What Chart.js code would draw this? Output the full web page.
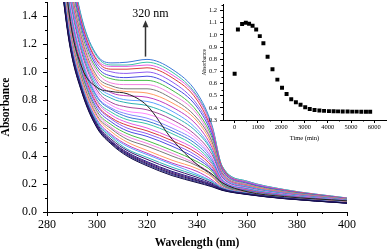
<!DOCTYPE html>
<html>
<head>
<meta charset="utf-8">
<script src="https://cdn.jsdelivr.net/npm/chart.js@4.4.1/dist/chart.umd.min.js"></script>
<style>
  html, body { margin: 0; padding: 0; background: #fff; }
  #wrap { position: relative; width: 390px; height: 251px; }
  #main { position: absolute; left: 0; top: 0; }
  #inset { position: absolute; left: 200px; top: 0; }
</style>
</head>
<body>
<div id="wrap">
  <canvas id="main" width="390" height="251"></canvas>
  <canvas id="inset" width="190" height="150"></canvas>
</div>
<script>
// main plot: spectra (nm -> absorbance)
const wavelengths = [284, 289, 294, 300, 306, 312, 320, 330, 340, 346, 350, 360, 375, 400];

const spectra = [
  [2.60, 1.85, 1.38, 1.12, 1.065, 1.07, 1.09, 1.02, 0.85, 0.62, 0.33, 0.22, 0.16, 0.10],
  [2.58, 1.83, 1.37, 1.11, 1.05, 1.05, 1.07, 1.00, 0.83, 0.61, 0.33, 0.22, 0.16, 0.10],
  [2.57, 1.82, 1.35, 1.09, 1.04, 1.04, 1.05, 0.98, 0.82, 0.60, 0.32, 0.215, 0.157, 0.098],
  [2.54, 1.80, 1.34, 1.08, 1.02, 1.02, 1.03, 0.96, 0.80, 0.58, 0.32, 0.21, 0.155, 0.097],
  [2.52, 1.77, 1.32, 1.06, 1.00, 0.99, 1.00, 0.93, 0.77, 0.57, 0.31, 0.21, 0.152, 0.096],
  [2.49, 1.75, 1.30, 1.04, 0.97, 0.96, 0.97, 0.90, 0.75, 0.55, 0.30, 0.205, 0.15, 0.094],
  [2.46, 1.72, 1.27, 1.02, 0.95, 0.94, 0.94, 0.87, 0.72, 0.53, 0.295, 0.20, 0.147, 0.093],
  [2.43, 1.69, 1.25, 1.00, 0.92, 0.91, 0.91, 0.84, 0.70, 0.51, 0.29, 0.197, 0.144, 0.091],
  [2.40, 1.67, 1.23, 0.97, 0.90, 0.88, 0.88, 0.81, 0.67, 0.50, 0.28, 0.193, 0.142, 0.090],
  [2.38, 1.64, 1.21, 0.95, 0.88, 0.86, 0.85, 0.78, 0.65, 0.48, 0.27, 0.19, 0.139, 0.088],
  [2.35, 1.62, 1.19, 0.93, 0.85, 0.83, 0.82, 0.75, 0.62, 0.46, 0.27, 0.186, 0.137, 0.087],
  [2.32, 1.59, 1.17, 0.91, 0.83, 0.80, 0.79, 0.72, 0.59, 0.44, 0.26, 0.182, 0.134, 0.085],
  [2.29, 1.56, 1.15, 0.89, 0.81, 0.78, 0.76, 0.69, 0.57, 0.43, 0.25, 0.178, 0.131, 0.084],
  [2.26, 1.54, 1.13, 0.87, 0.78, 0.75, 0.73, 0.66, 0.54, 0.41, 0.25, 0.174, 0.129, 0.082],
  [2.24, 1.51, 1.10, 0.85, 0.76, 0.72, 0.70, 0.63, 0.52, 0.39, 0.24, 0.171, 0.126, 0.081],
  [2.22, 1.49, 1.09, 0.83, 0.74, 0.70, 0.67, 0.60, 0.50, 0.38, 0.23, 0.168, 0.124, 0.080],
  [2.19, 1.47, 1.07, 0.82, 0.73, 0.68, 0.65, 0.58, 0.48, 0.365, 0.23, 0.165, 0.122, 0.079],
  [2.17, 1.45, 1.06, 0.80, 0.71, 0.66, 0.63, 0.56, 0.46, 0.35, 0.22, 0.162, 0.120, 0.077],
  [2.15, 1.43, 1.04, 0.79, 0.69, 0.64, 0.60, 0.53, 0.44, 0.34, 0.22, 0.159, 0.118, 0.076],
  [2.13, 1.41, 1.03, 0.77, 0.67, 0.62, 0.58, 0.51, 0.42, 0.325, 0.21, 0.156, 0.116, 0.075],
  [2.11, 1.40, 1.01, 0.76, 0.66, 0.60, 0.56, 0.49, 0.40, 0.31, 0.21, 0.154, 0.115, 0.074],
  [2.09, 1.38, 0.99, 0.74, 0.64, 0.58, 0.54, 0.47, 0.38, 0.30, 0.20, 0.151, 0.113, 0.073],
  [2.07, 1.36, 0.98, 0.72, 0.62, 0.56, 0.51, 0.44, 0.36, 0.29, 0.20, 0.148, 0.111, 0.072],
  [2.05, 1.34, 0.96, 0.71, 0.60, 0.54, 0.49, 0.42, 0.34, 0.27, 0.19, 0.145, 0.109, 0.071],
  [2.03, 1.32, 0.95, 0.69, 0.59, 0.52, 0.47, 0.40, 0.33, 0.26, 0.19, 0.142, 0.107, 0.070],
  [2.01, 1.30, 0.93, 0.68, 0.57, 0.50, 0.44, 0.37, 0.31, 0.25, 0.18, 0.139, 0.105, 0.069],
  [1.98, 1.28, 0.91, 0.66, 0.55, 0.48, 0.42, 0.35, 0.29, 0.23, 0.176, 0.136, 0.103, 0.067],
  [1.97, 1.27, 0.90, 0.65, 0.54, 0.47, 0.41, 0.34, 0.27, 0.22, 0.173, 0.135, 0.102, 0.067],
  [1.96, 1.25, 0.89, 0.64, 0.53, 0.45, 0.39, 0.32, 0.26, 0.215, 0.169, 0.133, 0.100, 0.066],
  [1.94, 1.24, 0.88, 0.63, 0.515, 0.44, 0.376, 0.306, 0.248, 0.206, 0.166, 0.131, 0.099, 0.065],
  [1.93, 1.23, 0.87, 0.62, 0.503, 0.427, 0.36, 0.29, 0.236, 0.198, 0.162, 0.129, 0.098, 0.0645],
  [1.92, 1.22, 0.866, 0.616, 0.498, 0.42, 0.353, 0.283, 0.229, 0.193, 0.16, 0.128, 0.097, 0.064],
  [1.91, 1.213, 0.861, 0.61, 0.492, 0.413, 0.345, 0.275, 0.223, 0.189, 0.159, 0.127, 0.096, 0.064],
  [1.907, 1.207, 0.855, 0.605, 0.486, 0.407, 0.338, 0.268, 0.216, 0.184, 0.157, 0.126, 0.096, 0.063],
  [1.90, 1.20, 0.85, 0.60, 0.48, 0.40, 0.33, 0.26, 0.21, 0.18, 0.155, 0.125, 0.095, 0.063]
];

// t = 0 spectrum (thin black line crossing the family)
const firstSpectrum = [2.30, 1.40, 1.03, 0.89, 0.86, 0.845, 0.76, 0.52, 0.34, 0.27, 0.21, 0.145, 0.11, 0.08];

const xTicks = [280, 300, 320, 340, 360, 380, 400];
const xMinor = [290, 310, 330, 350, 370, 390];
const yTicks = [0, 0.2, 0.4, 0.6, 0.8, 1.0, 1.2, 1.4];
const yMinor = [0.1, 0.3, 0.5, 0.7, 0.9, 1.1, 1.3, 1.5];

// arrow note at the 320 nm band
const noteText = '320 nm';
const noteX = 319;
const noteFrom = 1.11;
const noteTo = 1.37;
const noteY = 1.415;

// inset: absorbance at 320 nm vs time
const insetTime = [0, 140, 320, 480, 620, 770, 925, 1080, 1235, 1415, 1625, 1835, 2035, 2230, 2430, 2630,
  2830, 3030, 3225, 3430, 3640, 3840, 4050, 4250, 4440, 4640, 4850, 5050, 5240, 5440, 5640, 5820];
const insetAbs = [0.68, 1.045, 1.09, 1.10, 1.092, 1.075, 1.045, 0.99, 0.932, 0.82, 0.718, 0.632, 0.566, 0.513, 0.47, 0.446,
  0.425, 0.405, 0.39, 0.383, 0.378, 0.375, 0.373, 0.372, 0.371, 0.37, 0.37, 0.369, 0.369, 0.368, 0.368, 0.368];
const insetXTicks = [0, 1000, 2000, 3000, 4000, 5000, 6000];
const insetXMinor = [500, 1500, 2500, 3500, 4500, 5500];
const insetYTicks = [0.3, 0.4, 0.5, 0.6, 0.7, 0.8, 0.9, 1.0, 1.1, 1.2];
const insetYMinor = [0.35, 0.45, 0.55, 0.65, 0.75, 0.85, 0.95, 1.05, 1.15, 1.25];

const colors = ['#3a78d8', '#3cc4a8', '#e35be3', '#d83a3a', '#8f5cf0', '#4a4ae0', '#48bc48', '#f27fe0',
  '#7a7a7a', '#ff9a62', '#c03cc0', '#5fa0ff', '#2fb2b2', '#a8489a', '#ff86ff', '#8888ff'];
const darkColors = ['#3b1272', '#1d1d80', '#4d1780', '#25124f', '#2e2e90', '#120a40'];

const serif = 'Liberation Serif, Times New Roman, serif';

const minorTicks = {
  id: 'minorTicks',
  afterDraw(chart, args, opts) {
    const ctx = chart.ctx;
    const xs = chart.scales.x, ys = chart.scales.y;
    ctx.save();
    ctx.strokeStyle = '#000';
    ctx.lineWidth = 1;
    ctx.beginPath();
    opts.x.forEach(v => {
      const px = Math.round(xs.getPixelForValue(v)) + 0.5;
      ctx.moveTo(px, xs.top);
      ctx.lineTo(px, xs.top + opts.len);
    });
    opts.y.forEach(v => {
      const py = Math.round(ys.getPixelForValue(v)) + 0.5;
      ctx.moveTo(ys.right, py);
      ctx.lineTo(ys.right - opts.len, py);
    });
    ctx.stroke();
    ctx.restore();
  }
};

const arrowNote = {
  id: 'arrowNote',
  afterDatasetsDraw(chart) {
    const ctx = chart.ctx;
    const xs = chart.scales.x, ys = chart.scales.y;
    const px = Math.round(xs.getPixelForValue(noteX)) + 0.5;
    const y0 = ys.getPixelForValue(noteFrom);
    const y1 = ys.getPixelForValue(noteTo);
    ctx.save();
    ctx.strokeStyle = '#333';
    ctx.fillStyle = '#333';
    ctx.lineWidth = 1.5;
    ctx.beginPath();
    ctx.moveTo(px, y0);
    ctx.lineTo(px, y1 + 5);
    ctx.stroke();
    ctx.beginPath();
    ctx.moveTo(px, y1);
    ctx.lineTo(px - 3, y1 + 7);
    ctx.lineTo(px + 3, y1 + 7);
    ctx.closePath();
    ctx.fill();
    ctx.fillStyle = '#000';
    ctx.font = '12px ' + serif;
    ctx.textAlign = 'center';
    ctx.textBaseline = 'middle';
    ctx.fillText(noteText, px + 5, ys.getPixelForValue(noteY));
    ctx.restore();
  }
};

function fixTicks(list) {
  return s => { s.ticks = list.map(v => ({ value: v })); };
}

const datasets = spectra.map((s, i) => ({
  data: wavelengths.map((w, k) => ({ x: w, y: s[k] })),
  borderColor: i >= spectra.length - darkColors.length
    ? darkColors[i - (spectra.length - darkColors.length)]
    : colors[i % colors.length],
  borderWidth: 1,
  pointRadius: 0,
  cubicInterpolationMode: 'monotone',
  order: spectra.length - i + 1
}));
datasets.push({
  data: wavelengths.map((w, k) => ({ x: w, y: firstSpectrum[k] })),
  borderColor: '#222',
  borderWidth: 1,
  pointRadius: 0,
  cubicInterpolationMode: 'monotone',
  order: 0
});

new Chart(document.getElementById('main'), {
  type: 'line',
  data: { datasets },
  options: {
    responsive: false,
    animation: false,
    layout: { padding: { left: 0, right: 43, top: 2, bottom: 0 } },
    plugins: {
      legend: { display: false },
      tooltip: { enabled: false },
      minorTicks: { x: xMinor, y: yMinor, len: 2 }
    },
    scales: {
      x: {
        type: 'linear', min: 280, max: 400,
        afterBuildTicks: fixTicks(xTicks),
        afterFit: s => { s.height = 39; s.paddingLeft = 0; s.paddingRight = 0; },
        grid: { drawOnChartArea: false, tickLength: 4, tickColor: '#000' },
        border: { color: '#000', width: 1 },
        ticks: { color: '#000', padding: 2, maxRotation: 0, autoSkip: false,
          font: { family: serif, size: 12 }, callback: v => String(v) },
        title: { display: true, text: 'Wavelength (nm)', color: '#000',
          font: { family: serif, size: 11.5, weight: 'bold', lineHeight: 1.2 }, padding: { top: 0, bottom: 1 } }
      },
      y: {
        min: 0, max: 1.5,
        afterBuildTicks: fixTicks(yTicks),
        afterFit: s => { s.width = 47; s.paddingTop = 0; s.paddingBottom = 0; },
        grid: { drawOnChartArea: false, tickLength: 4, tickColor: '#000' },
        border: { color: '#000', width: 1 },
        ticks: { color: '#000', padding: 6, font: { family: serif, size: 12 }, callback: v => v.toFixed(1) },
        title: { display: true, text: 'Absorbance', color: '#000',
          font: { family: serif, size: 11.5, weight: 'bold', lineHeight: 1.05 }, padding: { top: 0, bottom: 0 } }
      }
    }
  },
  plugins: [minorTicks, arrowNote]
});

new Chart(document.getElementById('inset'), {
  type: 'scatter',
  data: {
    datasets: [{
      data: insetTime.map((t, i) => ({ x: t, y: insetAbs[i] })),
      pointStyle: 'rect',
      pointRadius: 2.8,
      backgroundColor: '#000',
      borderWidth: 0
    }]
  },
  options: {
    responsive: false,
    animation: false,
    layout: { padding: { left: 0, right: 3, top: 4.5, bottom: 0 } },
    plugins: {
      legend: { display: false },
      tooltip: { enabled: false },
      minorTicks: { x: insetXMinor, y: insetYMinor, len: 1.5 }
    },
    scales: {
      x: {
        type: 'linear', min: -500, max: 6500,
        afterBuildTicks: fixTicks(insetXTicks),
        afterFit: s => { s.height = 30; s.paddingLeft = 0; s.paddingRight = 0; },
        grid: { drawOnChartArea: false, tickLength: 3, tickColor: '#000' },
        border: { color: '#000', width: 1 },
        ticks: { color: '#000', padding: 0, maxRotation: 0, autoSkip: false,
          font: { family: serif, size: 6.5 }, callback: v => String(v) },
        title: { display: true, text: 'Time (min)', color: '#000',
          font: { family: serif, size: 6.5, lineHeight: 1.2 }, padding: { top: 0, bottom: 8 } }
      },
      y: {
        min: 0.3, max: 1.25,
        afterBuildTicks: fixTicks(insetYTicks),
        afterFit: s => { s.width = 23; s.paddingTop = 0; s.paddingBottom = 0; },
        grid: { drawOnChartArea: false, tickLength: 3, tickColor: '#000' },
        border: { color: '#000', width: 1 },
        ticks: { color: '#000', padding: 3, font: { family: serif, size: 6.5 }, callback: v => v.toFixed(1) },
        title: { display: true, text: 'Absorbance', color: '#000',
          font: { family: serif, size: 5.5, lineHeight: 1.2 }, padding: { top: 1.7, bottom: 0 } }
      }
    }
  },
  plugins: [minorTicks]
});
</script>
</body>
</html>
